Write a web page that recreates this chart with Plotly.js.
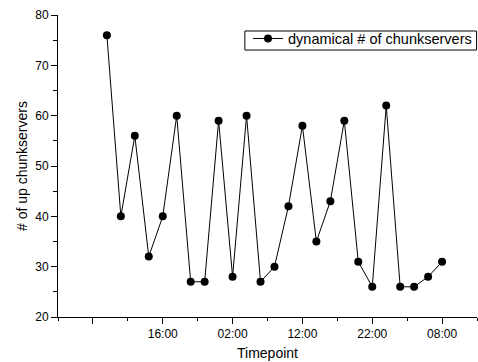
<!DOCTYPE html>
<html>
<head>
<meta charset="utf-8">
<script src="https://cdn.plot.ly/plotly-3.0.1.min.js"></script>
<style>html,body{margin:0;padding:0;background:#fff;}#chart{width:478px;height:362px;}</style>
</head>
<body>
<div id="chart"></div>
<script>
// Data
var pointIndex = [0,1,2,3,4,5,6,7,8,9,10,11,12,13,14,15,16,17,18,19,20,21,22,23,24];
var upChunkservers = [76,40,56,32,40,60,27,27,59,28,60,27,30,42,58,35,43,59,31,26,62,26,26,28,31];
var xTickVals = [-1,4,9,14,19,24];
var xTickText = ["","16:00","02:00","12:00","22:00","08:00"];
var xMinorVals = [-3.5,1.5,6.5,11.5,16.5,21.5,26.5];
var seriesName = "dynamical # of chunkservers";

var font = "Arial, 'Liberation Sans', sans-serif";

var trace = {
  x: pointIndex,
  y: upChunkservers,
  type: "scatter",
  mode: "lines+markers",
  name: seriesName,
  line: {color: "#000", width: 1},
  marker: {color: "#000", size: 8, symbol: "circle"}
};

var layout = {
  width: 478,
  height: 362,
  margin: {l: 58, r: 1, t: 15, b: 45},
  paper_bgcolor: "#fff",
  plot_bgcolor: "#fff",
  font: {family: font, color: "#000", size: 12},
  showlegend: true,
  legend: {
    x: 1, xanchor: "right",
    y: 0.975, yanchor: "top",
    borderwidth: 0,
    bgcolor: "rgba(0,0,0,0)",
    font: {family: font, size: 14.5, color: "#000"},
    tracegroupgap: 0,
    itemwidth: 30
  },
  shapes: [{
    type: "rect", xref: "paper", yref: "paper",
    x0: 0.446, x1: 0.999, y0: 0.884, y1: 0.947,
    line: {color: "#000", width: 1}, fillcolor: "rgba(0,0,0,0)", layer: "above"
  }],
  xaxis: {
    range: [-3.5, 26.5],
    showgrid: false, zeroline: false,
    showline: true, linecolor: "#000", linewidth: 1,
    ticks: "outside", ticklen: 6, tickwidth: 1, tickcolor: "#000",
    tickmode: "array", tickvals: xTickVals, ticktext: xTickText,
    tickfont: {family: font, size: 12, color: "#000"},
    minor: {tickmode: "array", tickvals: xMinorVals, ticks: "outside", ticklen: 3, tickwidth: 1, tickcolor: "#000", showgrid: false},
    title: {text: "Timepoint", font: {family: font, size: 14, color: "#000"}, standoff: 7}
  },
  yaxis: {
    range: [20, 80],
    showgrid: false, zeroline: false,
    showline: true, linecolor: "#000", linewidth: 1,
    ticks: "outside", ticklen: 6, tickwidth: 1, tickcolor: "#000",
    tickmode: "linear", tick0: 20, dtick: 10,
    tickfont: {family: font, size: 12, color: "#000"},
    minor: {tickmode: "linear", tick0: 25, dtick: 10, ticks: "outside", ticklen: 4, tickwidth: 1, tickcolor: "#000", showgrid: false},
    title: {text: "# of up chunkservers", font: {family: font, size: 14, color: "#000"}, standoff: 4}
  }
};

Plotly.newPlot("chart", [trace], layout, {displayModeBar: false, staticPlot: true});
</script>
</body>
</html>
